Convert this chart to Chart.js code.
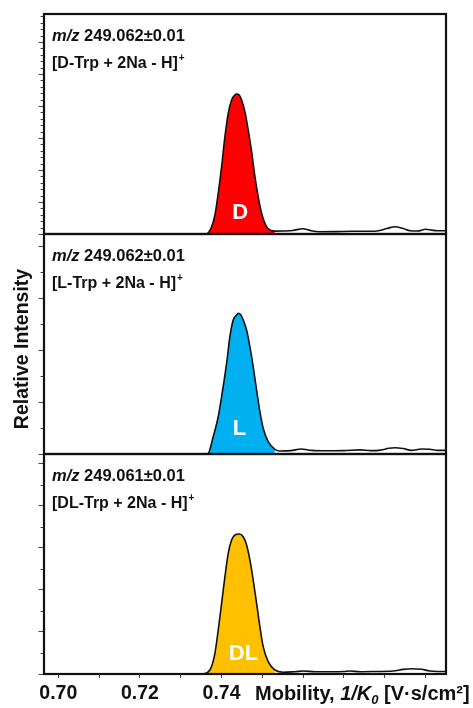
<!DOCTYPE html>
<html><head><meta charset="utf-8">
<script src="https://cdn.jsdelivr.net/npm/chart.js@4"></script>
<style>
html,body{margin:0;padding:0;background:#fff;}
#wrap{position:relative;width:473px;height:708px;background:#fff;}
#wrap canvas{position:absolute;left:0;top:0;}
</style></head><body>
<div id="wrap">
<canvas id="c1" width="473" height="708"></canvas>
<canvas id="c2" width="473" height="708"></canvas>
<canvas id="c3" width="473" height="708"></canvas>
</div>
<script>
// ---------- data ----------
const xMin = 0.6965, xMax = 0.795;
const xTicks = [0.70, 0.71, 0.72, 0.73, 0.74, 0.75, 0.76, 0.77, 0.78, 0.79];
const xTickLabels = [0.70, 0.72, 0.74];

const xD = [0.6965, 0.7300, 0.7355, 0.73635, 0.73757, 0.73838, 0.73919, 0.74002, 0.74083, 0.74164, 0.74247, 0.74328, 0.74369, 0.74433, 0.74492, 0.74573, 0.74653, 0.74737, 0.74818, 0.74898, 0.74982, 0.75104, 0.75307, 0.7550, 0.7575, 0.7599, 0.7620, 0.7640, 0.7680, 0.7720, 0.7760, 0.7785, 0.7805, 0.7825, 0.7845, 0.7862, 0.7880, 0.7900, 0.7915, 0.7930, 0.7950];
const yD = [0, 0, 0, 10, 228, 594, 1272, 2103, 3041, 3772, 4188, 4344, 4375, 4344, 4188, 3822, 3250, 2572, 1791, 1166, 647, 228, 90, 94, 109, 166, 100, 72, 75, 84, 84, 100, 170, 228, 172, 100, 94, 147, 120, 100, 100];

const xL = [0.6965, 0.7300, 0.7360, 0.73674, 0.73796, 0.73919, 0.74002, 0.74124, 0.74205, 0.74286, 0.74369, 0.74409, 0.74470, 0.74531, 0.74614, 0.74695, 0.74776, 0.74859, 0.74940, 0.75021, 0.75143, 0.75307, 0.7543, 0.7570, 0.7595, 0.7620, 0.7660, 0.7700, 0.7740, 0.7765, 0.7790, 0.7810, 0.7825, 0.7845, 0.7865, 0.7890, 0.7910, 0.7930, 0.7950];
const yL = [0, 0, 0, 13, 333, 717, 1102, 1744, 2256, 2577, 2673, 2706, 2680, 2577, 2385, 2063, 1679, 1231, 813, 494, 237, 90, 58, 65, 96, 70, 62, 65, 80, 65, 75, 110, 121, 105, 70, 96, 90, 70, 70];

const xDL = [0.6965, 0.7300, 0.7352, 0.73548, 0.73715, 0.73838, 0.73919, 0.74002, 0.74083, 0.74164, 0.74247, 0.74328, 0.74433, 0.74531, 0.74614, 0.74695, 0.74776, 0.74859, 0.74940, 0.75021, 0.75143, 0.75307, 0.7551, 0.7580, 0.7600, 0.7630, 0.7670, 0.7700, 0.7715, 0.7740, 0.7780, 0.7820, 0.7845, 0.7866, 0.7890, 0.7910, 0.7930, 0.7950];
const yDL = [0, 0, 0, 5, 95, 493, 1048, 1683, 2317, 2874, 3190, 3310, 3333, 3269, 3071, 2714, 2238, 1683, 1126, 650, 293, 95, 40, 55, 70, 55, 55, 60, 70, 55, 60, 70, 110, 126, 115, 70, 60, 60];

const peakEnds = [0.7531, 0.7531, 0.7531];
const panelMz = ['249.062\u00B10.01', '249.062\u00B10.01', '249.061\u00B10.01'];
const panelIons = ['D-Trp', 'L-Trp', 'DL-Trp'];
const peakNames = ['D', 'L', 'DL'];
const peakColors = ['#FF0000', '#00B0F0', '#FFC000'];
const yMaxes = [6875, 4231, 5238];
const yMajorSteps = [1000, 1000, 1000];
const yMinorSteps = [200, 500, 500];

Chart.defaults.font.family = '"Liberation Sans", Arial, sans-serif';
const FONT = '"Liberation Sans", Arial, sans-serif';

function range(step, max, skipStep) {
  const out = [];
  for (let i = 0; i * step <= max + 1e-9; i++) {
    const v = i * step;
    if (skipStep && Math.abs(v / skipStep - Math.round(v / skipStep)) < 1e-9) continue;
    out.push(v);
  }
  return out;
}

const framePlugin = {
  id: 'frame',
  afterDraw(chart, args, o) {
    const ctx = chart.ctx, a = chart.chartArea;
    const ys = chart.scales.y, xs = chart.scales.x;
    ctx.save();
    // minor y ticks
    ctx.strokeStyle = '#444'; ctx.lineWidth = 1;
    for (const v of o.minor) {
      const p = Math.round(ys.getPixelForValue(v)) + 0.5;
      ctx.beginPath(); ctx.moveTo(a.left - 3.5, p); ctx.lineTo(a.left, p); ctx.stroke();
    }
    // frame
    ctx.strokeStyle = '#111'; ctx.lineWidth = 2.2;
    ctx.strokeRect(a.left, a.top, a.right - a.left, a.bottom - a.top);
    // annotation lines
    ctx.fillStyle = '#111'; ctx.textAlign = 'left'; ctx.textBaseline = 'alphabetic';
    const x0 = a.left + 8, y1 = a.top + 27, y2 = a.top + 54;
    ctx.font = 'italic bold 16.5px ' + FONT;
    ctx.fillText('m/z', x0, y1);
    let w = ctx.measureText('m/z').width;
    ctx.font = 'bold 16.5px ' + FONT;
    ctx.fillText(' ' + o.mz, x0 + w, y1);
    ctx.font = 'bold 16px ' + FONT;
    const t2 = '[' + o.ion + ' + 2Na - H]';
    ctx.fillText(t2, x0, y2);
    w = ctx.measureText(t2).width;
    ctx.font = 'bold 10px ' + FONT;
    ctx.fillText('+', x0 + w + 1, y2 - 7);
    // peak label
    ctx.fillStyle = '#fff'; ctx.textAlign = 'center';
    ctx.font = 'bold 22px ' + FONT;
    ctx.fillText(o.name, xs.getPixelForValue(o.labelX), a.bottom - o.labelOff);
    // axis titles
    if (o.yTitle) {
      ctx.save();
      ctx.fillStyle = '#111';
      ctx.translate(28, 349); ctx.rotate(-Math.PI / 2);
      ctx.textAlign = 'center'; ctx.font = 'bold 19.5px ' + FONT;
      ctx.fillText('Relative Intensity', 0, 0);
      ctx.restore();
    }
    if (o.xTitle) {
      ctx.fillStyle = '#111'; ctx.textAlign = 'left';
      let x = 255; const y = 700;
      const parts = [['Mobility, ', 'bold 20px', 0], ['1/K', 'italic bold 20px', 0], ['0', 'italic bold 13px', 4], [' [V\u00B7s/cm\u00B2]', 'bold 20px', 0]];
      for (const [t, f, dy] of parts) {
        ctx.font = f + ' ' + FONT;
        ctx.fillText(t, x, y + dy);
        x += ctx.measureText(t).width;
      }
    }
    ctx.restore();
  }
};

const panels = [
  {id: 'c1', xs: xD, ys: yD, top: 14, bottom: 234, labelX: 0.7446, labelOff: 15},
  {id: 'c2', xs: xL, ys: yL, top: 234, bottom: 454, labelX: 0.7444, labelOff: 19},
  {id: 'c3', xs: xDL, ys: yDL, top: 454, bottom: 674, labelX: 0.74536, labelOff: 14}
];

panels.forEach((p, i) => {
  const pts = p.xs.map((x, k) => ({x: x, y: p.ys[k]}));
  const fillPts = pts.filter(q => q.x <= peakEnds[i] + 1e-9);
  const showX = i === 2;
  const yMajor = range(yMajorSteps[i], yMaxes[i]);
  const yMinor = range(yMinorSteps[i], yMaxes[i], yMajorSteps[i]);
  new Chart(document.getElementById(p.id), {
    type: 'line',
    data: {datasets: [
      {data: pts, borderColor: '#111', borderWidth: 1.6, pointRadius: 0, fill: false, cubicInterpolationMode: 'monotone'},
      {data: fillPts, borderWidth: 0, borderColor: 'rgba(0,0,0,0)', backgroundColor: peakColors[i], pointRadius: 0, fill: 'origin', cubicInterpolationMode: 'monotone'}
    ]},
    options: {
      responsive: false, animation: false, events: [],
      layout: {padding: {left: 38, right: 27, top: p.top, bottom: showX ? 0 : 708 - p.bottom}},
      plugins: {
        legend: {display: false}, tooltip: {enabled: false},
        frame: {minor: yMinor, mz: panelMz[i], ion: panelIons[i], name: peakNames[i], labelX: p.labelX, labelOff: p.labelOff, yTitle: i === 1, xTitle: i === 2}
      },
      scales: {
        x: {
          type: 'linear', min: xMin, max: xMax, display: showX,
          afterFit: s => { s.height = showX ? 34 : 0; },
          afterBuildTicks: s => { s.ticks = xTicks.map(v => ({value: v})); },
          ticks: {
            autoSkip: false, maxRotation: 0, minRotation: 0, padding: 4, color: '#111',
            font: {size: 19.5, weight: 'bold'},
            callback: v => xTickLabels.some(t => Math.abs(t - v) < 1e-9) ? Number(v).toFixed(2) : ''
          },
          grid: {drawOnChartArea: false, drawTicks: true, tickLength: 4, tickColor: '#444', tickWidth: 1},
          border: {display: false}
        },
        y: {
          type: 'linear', min: 0, max: yMaxes[i], display: true,
          afterFit: s => { s.width = 6; },
          afterBuildTicks: s => { s.ticks = yMajor.map(v => ({value: v})); },
          ticks: {display: false},
          grid: {drawOnChartArea: false, drawTicks: true, tickLength: 5.5, tickColor: '#444', tickWidth: 1},
          border: {display: false}
        }
      }
    },
    plugins: [framePlugin]
  });
});
</script>
</body></html>
